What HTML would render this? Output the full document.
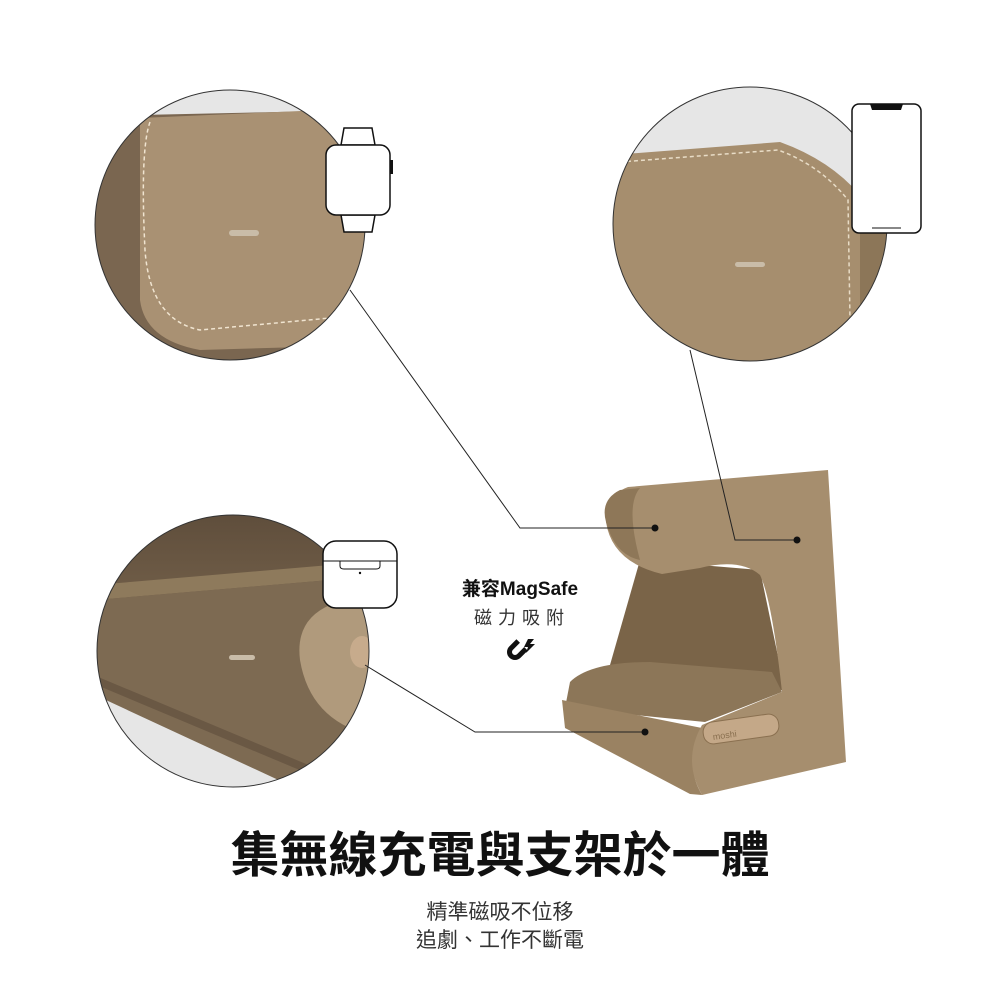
<!DOCTYPE html>
<html><head><meta charset="utf-8"><style>
html,body{margin:0;padding:0;background:#fff}
svg{display:block}
text{font-family:"Liberation Sans","Noto Sans CJK TC",sans-serif}
</style></head><body>
<svg width="1000" height="1000" viewBox="0 0 1000 1000" xmlns="http://www.w3.org/2000/svg">
<defs>
<clipPath id="c1"><circle cx="230" cy="225" r="135"/></clipPath>
<clipPath id="c2"><circle cx="750" cy="224" r="137"/></clipPath>
<clipPath id="c3"><circle cx="233" cy="651" r="136"/></clipPath>
<linearGradient id="g3" x1="0" y1="0" x2="0" y2="1"><stop offset="0" stop-color="#5e4d3b"/><stop offset="0.5" stop-color="#7c6850"/><stop offset="1" stop-color="#6d5a45"/></linearGradient>
</defs>
<g clip-path="url(#c1)">
<rect x="90" y="85" width="280" height="280" fill="#e6e6e6"/>
<path d="M95,140 L140,115 L370,110 L370,360 L95,360 Z" fill="#7a6650"/>
<path d="M140,118 L370,108 L370,345 L200,350 Q145,340 140,300 Z" fill="#a99173"/>
<path d="M150,122 Q140,150 145,250 Q150,320 200,330 L330,318" fill="none" stroke="#f0e4d0" stroke-width="1.5" stroke-dasharray="4 3"/>
<rect x="229" y="230" width="30" height="6" rx="3" fill="#c9bca8"/>
</g>
<circle cx="230" cy="225" r="135" fill="none" stroke="#333" stroke-width="1"/>
<g clip-path="url(#c2)">
<rect x="610" y="85" width="280" height="280" fill="#e6e6e6"/>
<path d="M612,155 L780,142 Q830,160 860,195 L860,362 L612,362 Z" fill="#a68e6e"/>
<path d="M860,195 L890,200 L890,362 L860,362 Z" fill="#8c7658"/>
<path d="M620,162 L778,150 Q820,165 848,200 L850,320" fill="none" stroke="#e8dcc6" stroke-width="1.5" stroke-dasharray="4 3"/>
<rect x="735" y="262" width="30" height="5" rx="2.5" fill="#c9bca8"/>
</g>
<circle cx="750" cy="224" r="137" fill="none" stroke="#333" stroke-width="1"/>
<g clip-path="url(#c3)">
<rect x="95" y="510" width="280" height="285" fill="url(#g3)"/>
<path d="M95,585 L330,565 L330,580 L95,600 Z" fill="#8e7a5c"/>
<path d="M95,600 L330,580 L370,780 L95,790 Z" fill="#7d6a52"/>
<path d="M95,695 L300,790 L95,790 Z" fill="#e6e6e6"/>
<path d="M95,680 L310,770" stroke="#6a5844" stroke-width="8"/>
<path d="M330,605 Q295,620 300,660 Q310,720 370,735 L370,600 Z" fill="#b09a7c"/>
<ellipse cx="362" cy="652" rx="12" ry="16" fill="#c7ab8c"/>
<rect x="229" y="655" width="26" height="5" rx="2.5" fill="#c9bca8"/>
</g>
<circle cx="233" cy="651" r="136" fill="none" stroke="#333" stroke-width="1"/>
<path d="M640,560 L760,570 L785,690 L600,700 Z" fill="#7a6448"/>
<path d="M570,682 Q590,662 650,662 L772,672 L782,692 L705,722 L565,708 Z" fill="#8c7658"/>
<path d="M562,700 L702,728 Q684,765 702,795 L690,794 L565,728 Z" fill="#9a8262"/>
<path d="M628,487 L828,470 L846,762 L702,795 Q682,760 702,725 L782,692 Q772,600 760,575 Q740,558 700,568 L662,574 Q612,562 606,522 Q606,495 628,487 Z" fill="#a68e6e"/>
<path d="M606,522 Q600,500 620,490 L640,488 Q625,505 640,560 Q615,555 606,522 Z" fill="#8e7758"/>
<rect x="703" y="718" width="76" height="22" rx="10" fill="#c4a888" stroke="#8a7050" transform="rotate(-8 741 729)"/>
<text x="712" y="736" font-size="9" fill="#8a7050" transform="rotate(-8 741 729)">moshi</text>
<polyline points="350,290 520,528 655,528" fill="none" stroke="#222" stroke-width="1"/>
<circle cx="655" cy="528" r="3.5" fill="#111"/>
<polyline points="690,350 735,540 797,540" fill="none" stroke="#222" stroke-width="1"/>
<circle cx="797" cy="540" r="3.5" fill="#111"/>
<polyline points="365,665 475,732 645,732" fill="none" stroke="#222" stroke-width="1"/>
<circle cx="645" cy="732" r="3.5" fill="#111"/>
<path d="M341,145 L344,128 L372,128 L375,145 Z" fill="#fff" stroke="#111" stroke-width="1.5"/>
<path d="M341,215 L344,232 L372,232 L375,215 Z" fill="#fff" stroke="#111" stroke-width="1.5"/>
<rect x="326" y="145" width="64" height="70" rx="10" fill="#fff" stroke="#111" stroke-width="1.5"/>
<rect x="390" y="160" width="3" height="14" fill="#111"/>
<rect x="852" y="104" width="69" height="129" rx="7" fill="#fff" stroke="#111" stroke-width="1.5"/>
<path d="M870,104 L872,110 L901,110 L903,104 Z" fill="#111"/>
<line x1="872" y1="228" x2="901" y2="228" stroke="#111" stroke-width="1"/>
<rect x="323" y="541" width="74" height="67" rx="13" fill="#fff" stroke="#111" stroke-width="1.5"/>
<line x1="323" y1="561" x2="397" y2="561" stroke="#111" stroke-width="1"/>
<path d="M340,561 L340,566 Q340,569 344,569 L376,569 Q380,569 380,566 L380,561" fill="none" stroke="#111" stroke-width="1"/>
<circle cx="360" cy="573" r="1.2" fill="#111"/>
<text x="520" y="595" font-size="19" font-weight="bold" text-anchor="middle" fill="#111">兼容MagSafe</text>
<text x="522" y="624" font-size="18" text-anchor="middle" fill="#333" letter-spacing="6">磁力吸附</text>
<g transform="translate(515,652) rotate(45)">
<path d="M-8,-10 L-8,0 A8,8 0 0 0 8,0 L8,-10 L3,-10 L3,0 A3,3 0 0 1 -3,0 L-3,-10 Z" fill="#111"/>
</g>
<path d="M528,639 L534,639 L530,644 L535,644 L526,653 L528,647 L524,647 Z" fill="#111"/>
<text x="500" y="872" font-size="49" font-weight="bold" text-anchor="middle" fill="#111">集無線充電與支架於一體</text>
<text x="500" y="919" font-size="21" text-anchor="middle" fill="#333">精準磁吸不位移</text>
<text x="500" y="947" font-size="21" text-anchor="middle" fill="#333">追劇、工作不斷電</text>
</svg>
</body></html>
